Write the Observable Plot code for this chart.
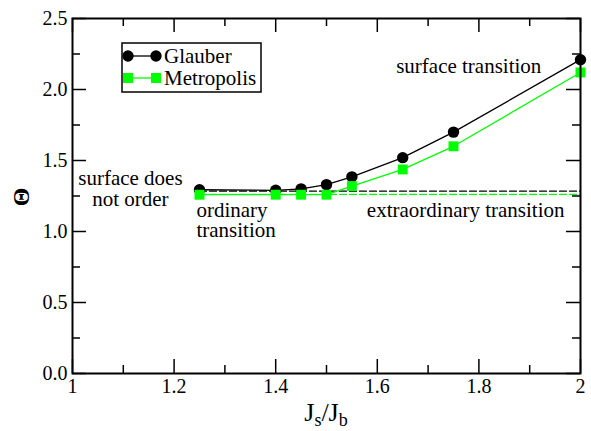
<!DOCTYPE html>
<html>
<head>
<meta charset="utf-8">
<script src="https://cdn.jsdelivr.net/npm/d3@7"></script>
<script src="https://cdn.jsdelivr.net/npm/@observablehq/plot@0.6"></script>
<style>
  html, body { margin: 0; padding: 0; background: #fff; }
  svg, svg text { font-family: "Liberation Serif", "Times New Roman", serif !important; }
</style>
</head>
<body>
<div id="chart"></div>
<script>
// ---- data ----
const jsjb = [1.25, 1.4, 1.45, 1.5, 1.55, 1.65, 1.75, 2.0];
const glauber = [1.294, 1.29, 1.30, 1.33, 1.385, 1.52, 1.70, 2.21];
const metropolis = [1.259, 1.259, 1.259, 1.259, 1.32, 1.437, 1.60, 2.12];
const glauberLevel = 1.284;      // dashed reference, Glauber
const metropolisLevel = 1.261;   // dashed reference, Metropolis
const levelRange = [1.25, 2.0];

const xMajor = [1, 1.2, 1.4, 1.6, 1.8, 2];
const xMinor = [1.1, 1.3, 1.5, 1.7, 1.9];
const yMajor = [0, 0.5, 1.0, 1.5, 2.0, 2.5];
const yMinor = [0.25, 0.75, 1.25, 1.75, 2.25];

const centeredNotes = [
  {x: 1.78, y: 2.166, text: "surface transition"},
  {x: 1.114, y: 1.304, text: "surface does\nnot order"},
  {x: 1.774, y: 1.153, text: "extraordinary transition"}
];
const leftNotes = [
  {x: 1.244, y: 1.075, text: "ordinary\ntransition"}
];

// ---- layout ----
const W = 591, H = 431;
const mL = 72, mR = 11, mT = 18, mB = 58;
const ph = H - mT - mB, pw = W - mL - mR;
const majLen = 14, minLen = 8;

const gRows = jsjb.map((x, i) => ({x, y: glauber[i]}));
const mRows = jsjb.map((x, i) => ({x, y: metropolis[i]}));
const gLevel = levelRange.map(x => ({x, y: glauberLevel}));
const mLevel = levelRange.map(x => ({x, y: metropolisLevel}));

const green = "#00ff00";
const FONT = "Liberation Serif, Times New Roman, serif";

const plot = Plot.plot({
  width: W, height: H,
  marginLeft: mL, marginRight: mR, marginTop: mT, marginBottom: mB,
  style: {fontFamily: FONT, fontSize: "20px", background: "white", color: "black"},
  x: {domain: [1, 2], label: null},
  y: {domain: [0, 2.5], label: null},
  marks: [
    Plot.axisX({ticks: xMajor, tickSize: 0, tickPadding: 5,
      tickFormat: d => (d === 1 || d === 2) ? String(d) : d.toFixed(1), fontSize: 20}),
    Plot.axisY({ticks: yMajor, tickSize: 0, tickPadding: 5,
      tickFormat: d => d.toFixed(1), fontSize: 20}),
    Plot.tickX(xMajor, {x: d => d, insetTop: ph - majLen, stroke: "black", strokeWidth: 1.5}),
    Plot.tickX(xMajor, {x: d => d, insetBottom: ph - majLen, stroke: "black", strokeWidth: 1.5}),
    Plot.tickX(xMinor, {x: d => d, insetTop: ph - minLen, stroke: "black", strokeWidth: 1.5}),
    Plot.tickX(xMinor, {x: d => d, insetBottom: ph - minLen, stroke: "black", strokeWidth: 1.5}),
    Plot.tickY(yMajor, {y: d => d, insetRight: pw - majLen, stroke: "black", strokeWidth: 1.5}),
    Plot.tickY(yMajor, {y: d => d, insetLeft: pw - majLen, stroke: "black", strokeWidth: 1.5}),
    Plot.tickY(yMinor, {y: d => d, insetRight: pw - minLen, stroke: "black", strokeWidth: 1.5}),
    Plot.tickY(yMinor, {y: d => d, insetLeft: pw - minLen, stroke: "black", strokeWidth: 1.5}),
    Plot.line(gLevel, {x: "x", y: "y", stroke: "black", strokeWidth: 1.3, strokeDasharray: "7,3"}),
    Plot.line(mLevel, {x: "x", y: "y", stroke: green, strokeWidth: 1.3, strokeDasharray: "7,3"}),
    Plot.line(gRows, {x: "x", y: "y", stroke: "black", strokeWidth: 1.3}),
    Plot.line(mRows, {x: "x", y: "y", stroke: green, strokeWidth: 1.3}),
    Plot.dot(gRows, {x: "x", y: "y", r: 5.7, fill: "black", stroke: "none"}),
    Plot.dot(mRows, {x: "x", y: "y", r: 5.6, symbol: "square", fill: green, stroke: "none"}),
    Plot.text(centeredNotes, {x: "x", y: "y", text: "text", textAnchor: "middle",
      fontSize: 21, lineHeight: 1.0, fill: "black"}),
    Plot.text(leftNotes, {x: "x", y: "y", text: "text", textAnchor: "start",
      fontSize: 21, lineHeight: 0.93, fill: "black"}),
    Plot.frame({stroke: "black", strokeWidth: 2})
  ]
});

document.getElementById("chart").appendChild(plot);

// ---- axis titles & legend ----
const svg = d3.select(plot);
const xs = plot.scale("x");

const xt = svg.append("text")
  .attr("x", xs.apply(1.5)).attr("y", 421)
  .attr("text-anchor", "middle")
  .style("font-size", "26px").attr("fill", "black");
xt.append("tspan").text("J");
xt.append("tspan").attr("dy", 5).style("font-size", "18px").text("s");
xt.append("tspan").attr("dy", -5).text("/J");
xt.append("tspan").attr("dy", 5).style("font-size", "18px").text("b");

svg.append("text")
  .attr("transform", `translate(21,197) rotate(-90)`)
  .attr("text-anchor", "middle").attr("dominant-baseline", "central")
  .style("font-size", "24px").style("font-weight", "bold").attr("fill", "black")
  .text("Θ");

const lg = svg.append("g");
lg.append("rect").attr("x", 122).attr("y", 43).attr("width", 139).attr("height", 49)
  .attr("fill", "white").attr("stroke", "black").attr("stroke-width", 1.5);
const legendItems = [
  {name: "Glauber", color: "black", sym: "circle", y: 56},
  {name: "Metropolis", color: green, sym: "square", y: 78}
];
legendItems.forEach(it => {
  lg.append("line").attr("x1", 128).attr("x2", 156).attr("y1", it.y).attr("y2", it.y)
    .attr("stroke", it.color).attr("stroke-width", 1.3);
  [128, 156].forEach(cx => {
    if (it.sym === "circle") {
      lg.append("circle").attr("cx", cx).attr("cy", it.y).attr("r", 5.7).attr("fill", it.color);
    } else {
      lg.append("rect").attr("x", cx - 5).attr("y", it.y - 5).attr("width", 10).attr("height", 10).attr("fill", it.color);
    }
  });
  lg.append("text").attr("x", 164).attr("y", it.y + 7)
    .attr("text-anchor", "start")
    .style("font-size", "21px")
    .attr("fill", "black").text(it.name);
});
</script>
</body>
</html>
